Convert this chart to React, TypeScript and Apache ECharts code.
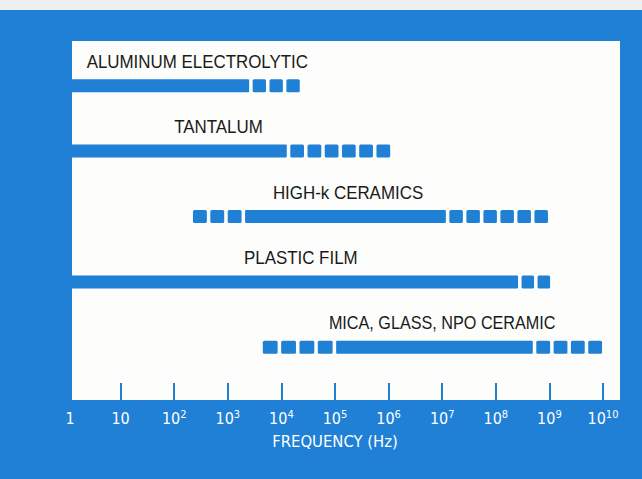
import React, { useEffect, useRef } from "react";
import * as echarts from "echarts";

// Capacitor types (top to bottom)
const categories = [
  "ALUMINUM ELECTROLYTIC",
  "TANTALUM",
  "HIGH-k CERAMICS",
  "PLASTIC FILM",
  "MICA, GLASS, NPO CERAMIC",
];
// Frequencies in Hz
const solidFrom = [1, 1, 2.1e3, 1, 1.05e5];
const solidTo = [2.5e3, 1.26e4, 1.17e7, 2.6e8, 4.9e8];
const dashFrom: (number | null)[] = [null, null, 2.24e2, null, 4.5e3];
const dashTo = [2.2e4, 1.07e6, 9.4e8, 1.03e9, 9.6e9];
// Where each caption sits (Hz, centre of text)
const labelAt = [2.7e2, 6.7e2, 1.75e5, 2.3e4, 1.0e7];

const BLUE = "#1f80d6";
const LABEL_FONT = "'Liberation Sans', Arial, sans-serif";
const AXIS_FONT = "'DejaVu Sans Condensed', 'Liberation Sans Narrow', 'Liberation Sans', sans-serif";

export default function App() {
  const ref = useRef<HTMLDivElement>(null);
  useEffect(() => {
    if (!ref.current) return;
    const chart = echarts.init(ref.current, null, { renderer: "svg" });

    // segments: [catIndex, from, to, kind]  kind 0 = solid, 1 = squares after solid, 2 = squares before solid
    const segs: number[][] = [];
    categories.forEach((_, i) => {
      segs.push([i, solidFrom[i], solidTo[i], 0]);
      segs.push([i, solidTo[i], dashTo[i], 1]);
      const df = dashFrom[i];
      if (df != null) segs.push([i, df, solidFrom[i], 2]);
    });
    const labels = categories.map((c, i) => [i, labelAt[i]]);

    const H = 13;
    chart.setOption({
      animation: false,
      backgroundColor: BLUE,
      grid: { left: 67, right: 39, top: 53, bottom: 99 },
      xAxis: {
        type: "log",
        logBase: 10,
        min: 1,
        max: 1e10,
        interval: 1,
        offset: 20,
        splitLine: { show: false },
        axisLine: { show: false },
        axisTick: {
          show: true,
          inside: true,
          length: 17,
          lineStyle: { color: BLUE, width: 2 },
        },
        axisLabel: {
          margin: 9,
          formatter: (v: number) => {
            const e = Math.round(Math.log10(v));
            if (e === 0) return "{o|1}";
            if (e === 1) return "{b|10}";
            return "{b|10}{s|" + e + "}";
          },
          rich: {
            o: { fontFamily: AXIS_FONT, fontSize: 16, color: "#ffffff", lineHeight: 18, padding: [0, 0, 0, 6] },
            b: { fontFamily: AXIS_FONT, fontSize: 16, color: "#ffffff", lineHeight: 18 },
            s: { fontFamily: AXIS_FONT, fontSize: 11, color: "#ffffff", lineHeight: 11, verticalAlign: "top" },
          },
        },
        name: "FREQUENCY (Hz)",
        nameLocation: "middle",
        nameGap: 33,
        nameTextStyle: { fontFamily: AXIS_FONT, fontSize: 16.5, color: "#ffffff" },
      },
      yAxis: {
        type: "category",
        data: categories,
        inverse: true,
        show: false,
      },
      graphic: [
        { type: "rect", z: -10, shape: { x: 0, y: 0, width: 642, height: 10 }, style: { fill: "#eef0ef" } },
        { type: "rect", z: -10, shape: { x: 72, y: 41, width: 548, height: 359 }, style: { fill: "#fdfdfb" } },
      ],
      series: [
        {
          type: "custom",
          z: 5,
          data: segs,
          encode: { x: [1, 2], y: 0 },
          renderItem: (params: any, api: any) => {
            const cat = api.value(0);
            const a = api.value(1);
            const b = api.value(2);
            const kind = api.value(3);
            const p0 = api.coord([a, cat]);
            const p1 = api.coord([b, cat]);
            const y = p0[1] - H / 2;
            if (kind === 0) {
              return {
                type: "rect",
                shape: { x: p0[0], y, width: p1[0] - p0[0], height: H, r: 1 },
                style: { fill: BLUE },
              };
            }
            const w = p1[0] - p0[0];
            const n = Math.max(1, Math.round(w / 16.5));
            const pitch = w / n;
            const gap = 3.5;
            const s = pitch - gap;
            const children: any[] = [];
            for (let k = 0; k < n; k++) {
              const x = kind === 1 ? p0[0] + gap + k * pitch : p0[0] + k * pitch;
              children.push({
                type: "rect",
                shape: { x, y, width: s, height: H, r: 1.5 },
                style: { fill: BLUE },
              });
            }
            return { type: "group", children };
          },
        },
        {
          type: "custom",
          z: 6,
          data: labels,
          encode: { x: 1, y: 0 },
          renderItem: (params: any, api: any) => {
            const i = api.value(0);
            const p = api.coord([api.value(1), i]);
            return {
              type: "text",
              x: p[0],
              y: p[1] - 24,
              scaleX: i === 4 ? 0.9 : 0.94,
              style: {
                text: categories[i],
                fontFamily: LABEL_FONT,
                fontSize: 18,
                fill: "#1a1a1a",
                align: "center",
                verticalAlign: "middle",
              },
            };
          },
        },
      ],
    });
    return () => chart.dispose();
  }, []);
  return (
    <div
      ref={ref}
      style={{ position: "fixed", left: 0, top: 0, width: 642, height: 479 }}
    />
  );
}
